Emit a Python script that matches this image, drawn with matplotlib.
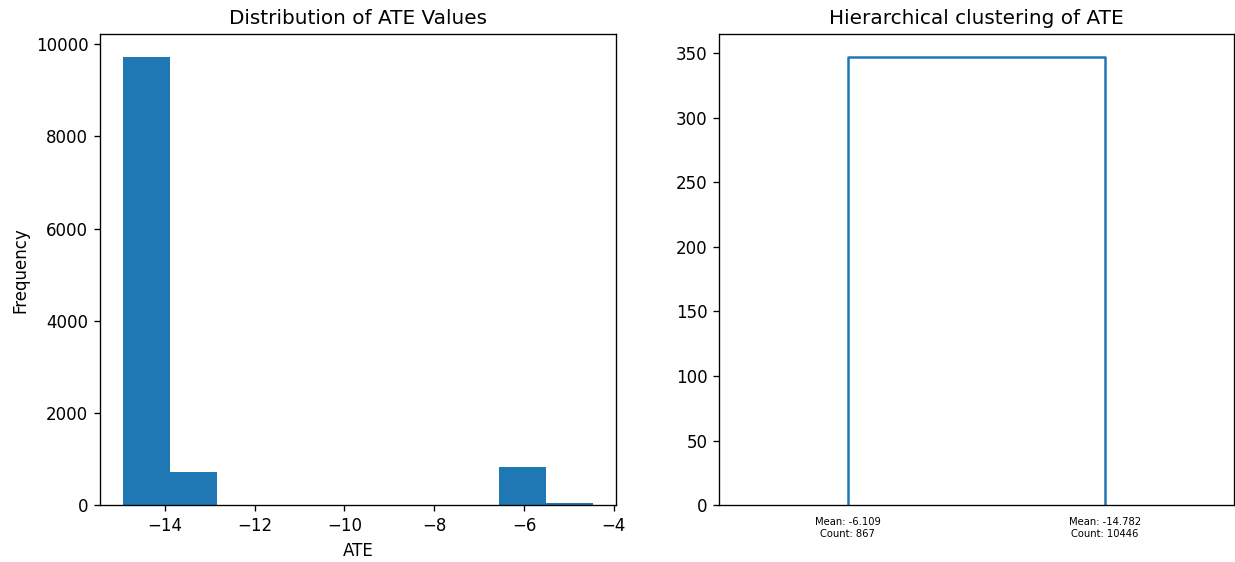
import numpy as np
import matplotlib
matplotlib.use("Agg")
import matplotlib.pyplot as plt

# histogram of ATE values (10 equal bins)
bin_lo, bin_hi = -14.918, -4.474
counts = [9724, 722, 0, 0, 0, 0, 0, 0, 828, 39]

# two-cluster dendrogram summary
cluster_means = [-6.109, -14.782]
cluster_counts = [867, 10446]
merge_height = 347.1

dpi = 120
fig = plt.figure(figsize=(1235 / dpi, 562 / dpi), dpi=dpi)
ax1 = fig.add_axes([0.081, 0.1009, 0.4178, 0.8381])
ax2 = fig.add_axes([0.5822, 0.1009, 0.4168, 0.8381])

edges = np.linspace(bin_lo, bin_hi, len(counts) + 1)
ax1.hist(edges[:-1], bins=edges, weights=counts)
ax1.set_title('Distribution of ATE Values')
ax1.set_xlabel('ATE')
ax1.set_ylabel('Frequency')

# dendrogram link drawn the scipy way: leaves at 5, 15, ...
leaf_x = [5 + 10 * i for i in range(len(cluster_means))]
ax2.plot([leaf_x[0], leaf_x[0], leaf_x[1], leaf_x[1]],
         [0, merge_height, merge_height, 0], color='C0')
ax2.set_xlim(0, 10 * len(cluster_means))
ax2.set_ylim(0, merge_height * 1.05)
labels = [f'Mean: {m:.3f}\nCount: {c}' for m, c in zip(cluster_means, cluster_counts)]
ax2.set_xticks(leaf_x)
ax2.set_xticklabels(labels, fontsize=6)
for line in ax2.get_xticklines():
    line.set_visible(False)
ax2.set_title('Hierarchical clustering of ATE')

fig.savefig('out.png', dpi=dpi)
